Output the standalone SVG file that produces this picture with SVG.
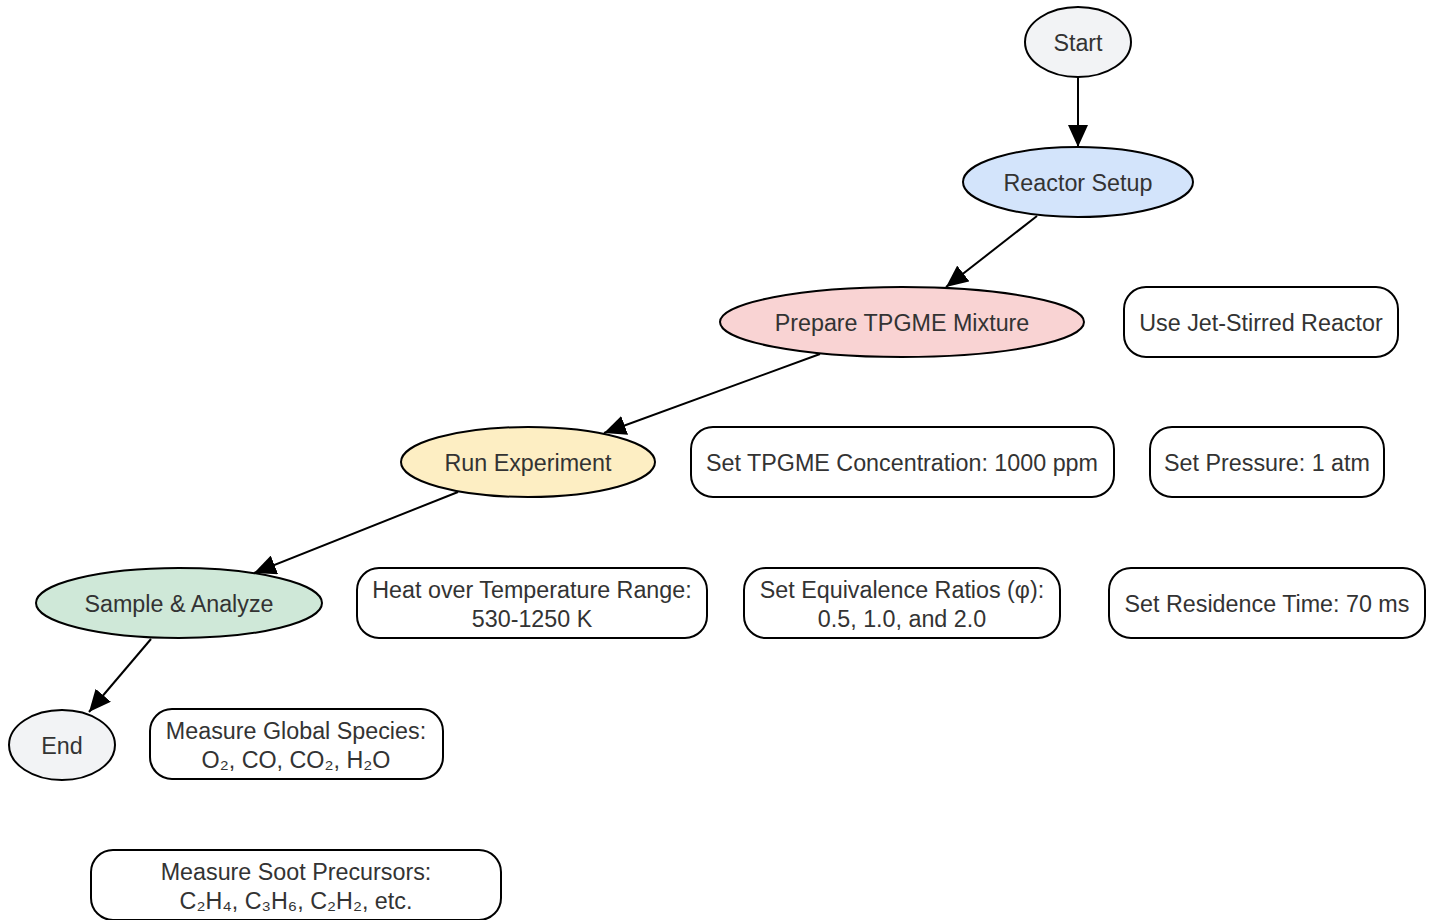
<svg xmlns="http://www.w3.org/2000/svg" width="1433" height="920" viewBox="0 0 1433 920">
<defs>
<style>
text{font-family:"Liberation Sans",Arial,sans-serif;font-size:23.3px;fill:#333333;text-anchor:middle;dominant-baseline:central}
.n{stroke:#000;stroke-width:2}
.b{fill:#fff;stroke:#000;stroke-width:2}
.e{stroke:#000;stroke-width:2;fill:none;marker-end:url(#ah)}
</style>
<marker id="ah" markerUnits="userSpaceOnUse" markerWidth="22" markerHeight="20" viewBox="0 0 22 20" refX="22" refY="10" orient="auto">
<path d="M0,0 L22,10 L0,20 Z" fill="#000"/>
</marker>
</defs>
<rect width="1433" height="920" fill="#fff"/>
<g id="connectors">
<line class="e" x1="1078" y1="77" x2="1078" y2="147"/>
<line class="e" x1="1037" y1="216" x2="946" y2="287"/>
<line class="e" x1="820" y1="354" x2="604" y2="433"/>
<line class="e" x1="458" y1="492" x2="254" y2="573"/>
<line class="e" x1="151" y1="639" x2="89" y2="712"/>
</g>
<g id="start"><ellipse class="n" cx="1078" cy="42" rx="53" ry="35" fill="#f2f3f5"/><text x="1078" y="43">Start</text></g>
<g id="reactor-setup"><ellipse class="n" cx="1078" cy="182" rx="115" ry="35" fill="#d3e4fb"/><text x="1078" y="183">Reactor Setup</text></g>
<g id="prepare"><ellipse class="n" cx="902" cy="322" rx="182" ry="35" fill="#f9d3d3"/><text x="902" y="323">Prepare TPGME Mixture</text></g>
<g id="run"><ellipse class="n" cx="528" cy="462" rx="127" ry="35" fill="#fdeec3"/><text x="528" y="463">Run Experiment</text></g>
<g id="sample"><ellipse class="n" cx="179" cy="603" rx="143" ry="35" fill="#cfe8d8"/><text x="179" y="604">Sample &amp; Analyze</text></g>
<g id="end"><ellipse class="n" cx="62" cy="745" rx="53" ry="35" fill="#f2f3f5"/><text x="62" y="746">End</text></g>
<g id="jsr"><rect class="b" x="1124" y="287" width="274" height="70" rx="22"/><text x="1261" y="323">Use Jet-Stirred Reactor</text></g>
<g id="conc"><rect class="b" x="691" y="427" width="423" height="70" rx="22"/><text x="902" y="463">Set TPGME Concentration: 1000 ppm</text></g>
<g id="pressure"><rect class="b" x="1150" y="427" width="234" height="70" rx="22"/><text x="1267" y="463">Set Pressure: 1 atm</text></g>
<g id="temp"><rect class="b" x="357" y="568" width="350" height="70" rx="22"/><text x="532" y="590">Heat over Temperature Range:</text><text x="532" y="619">530-1250 K</text></g>
<g id="phi"><rect class="b" x="744" y="568" width="316" height="70" rx="22"/><text x="902" y="590">Set Equivalence Ratios (φ):</text><text x="902" y="619">0.5, 1.0, and 2.0</text></g>
<g id="residence"><rect class="b" x="1109" y="568" width="316" height="70" rx="22"/><text x="1267" y="604">Set Residence Time: 70 ms</text></g>
<g id="global"><rect class="b" x="150" y="709" width="293" height="70" rx="22"/><text x="296" y="731">Measure Global Species:</text><text x="296" y="760">O₂, CO, CO₂, H₂O</text></g>
<g id="soot"><rect class="b" x="91" y="850" width="410" height="70" rx="22"/><text x="296" y="872">Measure Soot Precursors:</text><text x="296" y="901">C₂H₄, C₃H₆, C₂H₂, etc.</text></g>
</svg>
